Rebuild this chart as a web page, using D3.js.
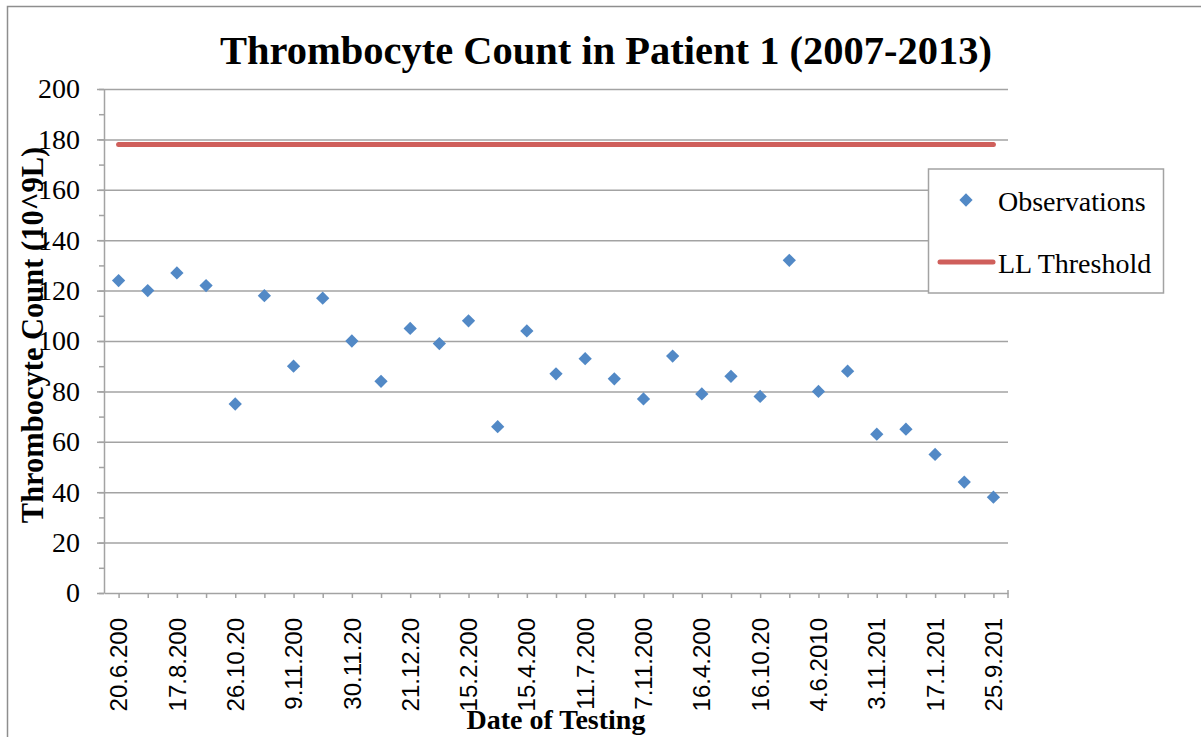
<!DOCTYPE html>
<html>
<head>
<meta charset="utf-8">
<script src="https://cdn.jsdelivr.net/npm/d3@7"></script>
<style>
    html, body { margin: 0; padding: 0; background: #fff; }
    svg { display: block; }
</style>
</head>
<body>
<svg id="chart" width="1201" height="737"></svg>
<script>
'use strict';

// observed thrombocyte counts, one per test date (31 tests)
var obsValues = [124, 120, 127, 122, 75, 118, 90, 117, 100, 84, 105, 99, 108, 66, 104, 87,
                 93, 85, 77, 94, 79, 86, 78, 132, 80, 88, 63, 65, 55, 44, 38];
// lower limit threshold, same value on every date
var thresholdValue = 178;
// category labels, shown on every second date (as they appear, cut off)
var tickLabels = ['20.6.200', '17.8.200', '26.10.20', '9.11.200', '30.11.20', '21.12.20', '15.2.200', '15.4.200',
                  '11.7.200', '7.11.200', '16.4.200', '16.10.20', '4.6.2010', '3.11.201', '17.1.201', '25.9.201'];
var yMajorTicks = [0, 20, 40, 60, 80, 100, 120, 140, 160, 180, 200];
var seriesNames = ['Observations', 'LL Threshold'];

var gridColor = '#a3a3a3';
var blue = '#5289c6';
var red = '#cf5f5b';

var svg = d3.select('#chart');
var plotLeft = 104, plotRight = 1008, plotTop = 89, plotBottom = 593;

var idx = d3.range(obsValues.length);
var x = d3.scalePoint().domain(idx).range([plotLeft, plotRight]).padding(0.5);
var y = d3.scaleLinear().domain([0, 200]).range([plotBottom, plotTop]);

// chart area border
svg.append('rect')
    .attr('x', 7.5).attr('y', 6.5)
    .attr('width', 1210).attr('height', 750)
    .attr('fill', '#fff').attr('stroke', '#8e8e8e').attr('stroke-width', 1.5);

// title
svg.append('text')
    .attr('x', 606).attr('y', 64)
    .attr('text-anchor', 'middle')
    .style('font-family', '"Liberation Serif", serif')
    .style('font-weight', 'bold')
    .style('font-size', '40.5px')
    .text('Thrombocyte Count in Patient 1 (2007-2013)');

// horizontal gridlines
var grid = svg.append('g')
    .attr('transform', 'translate(' + plotLeft + ',0)')
    .call(d3.axisLeft(y).tickValues(yMajorTicks.filter(function(d) {return d > 0;}))
        .tickSize(-(plotRight - plotLeft)).tickFormat(''));
grid.select('.domain').remove();
grid.selectAll('line').attr('stroke', gridColor).attr('stroke-width', 1.5);

// y axis, minor then major ticks
var yMinor = svg.append('g')
    .attr('transform', 'translate(' + plotLeft + ',0)')
    .call(d3.axisLeft(y).tickValues(d3.range(0, 201, 10)).tickSize(5).tickFormat(''));
yMinor.select('.domain').remove();
yMinor.selectAll('line').attr('stroke', gridColor).attr('stroke-width', 1.5);

var yAxis = svg.append('g')
    .attr('transform', 'translate(' + plotLeft + ',0)')
    .call(d3.axisLeft(y).tickValues(yMajorTicks).tickSize(7).tickPadding(17).tickSizeOuter(0));
yAxis.select('.domain').attr('stroke', gridColor).attr('stroke-width', 1.5);
yAxis.selectAll('line').attr('stroke', gridColor).attr('stroke-width', 1.5);
yAxis.selectAll('text')
    .attr('fill', '#000')
    .style('font-family', '"Liberation Serif", serif')
    .style('font-size', '28px');

// x axis
var xAxis = svg.append('g')
    .attr('transform', 'translate(0,' + plotBottom + ')')
    .call(d3.axisBottom(x).tickSize(5).tickSizeOuter(0).tickFormat(''));
xAxis.select('.domain').attr('stroke', gridColor).attr('stroke-width', 1.5);
xAxis.selectAll('line').attr('stroke', gridColor).attr('stroke-width', 1.5);
xAxis.append('line')
    .attr('x1', plotRight).attr('x2', plotRight).attr('y1', -3).attr('y2', 5)
    .attr('stroke', gridColor).attr('stroke-width', 1.5);

svg.append('g').selectAll('text')
    .data(tickLabels)
    .enter().append('text')
    .attr('transform', function(d, i) {return 'translate(' + x(i * 2) + ',618) rotate(-90)';})
    .attr('dy', '0.36em')
    .attr('text-anchor', 'end')
    .style('font-family', '"Liberation Sans", Arial, sans-serif')
    .style('font-size', '24px')
    .text(function(d) {return d;});

// axis titles
svg.append('text')
    .attr('transform', 'translate(43,335) rotate(-90)')
    .attr('text-anchor', 'middle')
    .style('font-family', '"Liberation Serif", serif')
    .style('font-weight', 'bold')
    .style('font-size', '30.5px')
    .text('Thrombocyte Count (10^9L)');

svg.append('text')
    .attr('x', 556).attr('y', 729)
    .attr('text-anchor', 'middle')
    .style('font-family', '"Liberation Serif", serif')
    .style('font-weight', 'bold')
    .style('font-size', '28px')
    .text('Date of Testing');

// threshold line
var thresholdLine = d3.line()
    .x(function(d) {return x(d);})
    .y(function() {return y(thresholdValue);});
svg.append('path')
    .datum(idx)
    .attr('d', thresholdLine)
    .attr('fill', 'none')
    .attr('stroke', red)
    .attr('stroke-width', 5)
    .attr('stroke-linecap', 'round');

// observation markers
var diamond = d3.symbol().type(d3.symbolSquare).size(88);
svg.append('g').selectAll('path')
    .data(obsValues)
    .enter().append('path')
    .attr('d', diamond)
    .attr('transform', function(d, i) {return 'translate(' + x(i) + ',' + y(d) + ') rotate(45)';})
    .attr('fill', blue);

// legend
var legend = svg.append('g');
legend.append('rect')
    .attr('x', 928.5).attr('y', 169)
    .attr('width', 235).attr('height', 124)
    .attr('fill', '#fff').attr('stroke', gridColor).attr('stroke-width', 1.5);
legend.append('path')
    .attr('d', diamond)
    .attr('transform', 'translate(966,200) rotate(45)')
    .attr('fill', blue);
legend.append('line')
    .attr('x1', 940).attr('x2', 993).attr('y1', 262).attr('y2', 262)
    .attr('stroke', red).attr('stroke-width', 5).attr('stroke-linecap', 'round');
legend.selectAll('text')
    .data(seriesNames)
    .enter().append('text')
    .attr('x', 998)
    .attr('y', function(d, i) {return 211 + i * 62;})
    .style('font-family', '"Liberation Serif", serif')
    .style('font-size', '28px')
    .text(function(d) {return d;});
</script>
</body>
</html>
